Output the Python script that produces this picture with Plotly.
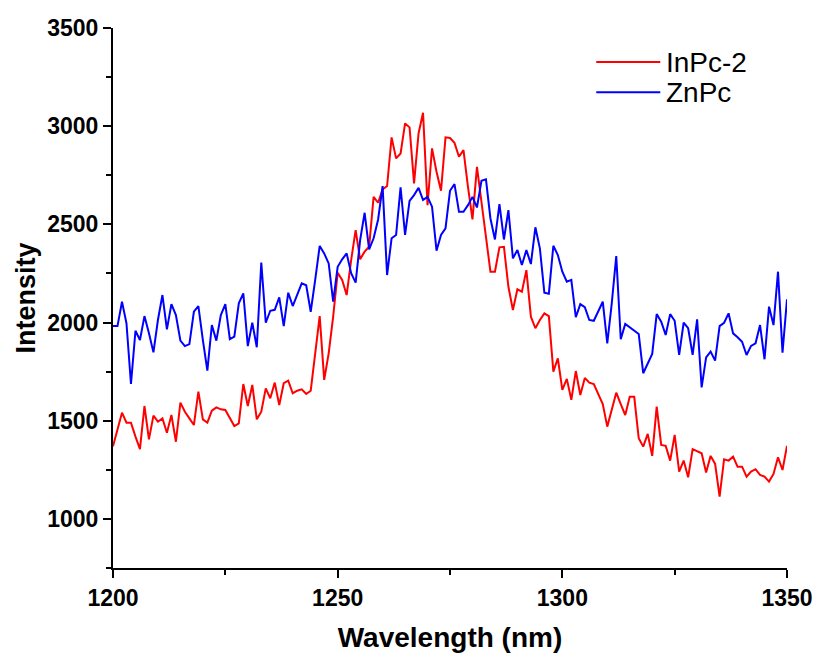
import plotly.graph_objects as go

wavelength = list(range(1200, 1351))

inpc2 = [1370, 1455, 1541, 1490, 1490, 1419, 1355, 1575, 1405, 1526,
         1495, 1512, 1439, 1529, 1393, 1592, 1546, 1512, 1478, 1648,
         1507, 1490, 1551, 1568, 1558, 1555, 1517, 1473, 1487, 1687,
         1575, 1682, 1507, 1546, 1665, 1614, 1694, 1580, 1691, 1704,
         1640, 1653, 1660, 1636, 1653, 1843, 2033, 1708, 1843, 2030,
         2254, 2217, 2140, 2318, 2471, 2322, 2361, 2386, 2640, 2610,
         2678, 2695, 2943, 2836, 2861, 3014, 2994, 2709, 2963, 3068,
         2598, 2887, 2768, 2671, 2943, 2940, 2915, 2844, 2878, 2691,
         2525, 2793, 2624, 2437, 2259, 2259, 2383, 2386, 2182, 2064,
         2169, 2157, 2267, 2030, 1971, 2013, 2047, 2033, 1750, 1818,
         1657, 1713, 1606, 1753, 1631, 1718, 1694, 1687, 1640, 1585,
         1470, 1555, 1643, 1585, 1529, 1622, 1622, 1411, 1368, 1433,
         1321, 1572, 1377, 1372, 1297, 1428, 1241, 1297, 1212, 1355,
         1343, 1334, 1236, 1321, 1280, 1113, 1304, 1297, 1317, 1266,
         1266, 1215, 1241, 1253, 1224, 1215, 1190, 1229, 1314, 1249,
         1372]

znpc = [1982, 1982, 2106, 1996, 1687, 1958, 1911, 2033, 1945, 1848,
        2013, 2140, 1965, 2094, 2038, 1908, 1880, 1890, 2055, 2084,
        1911, 1755, 1987, 1908, 2038, 2094, 1915, 1928, 2098, 2149,
        1880, 1999, 1874, 2305, 1999, 2060, 2065, 2128, 1982, 2152,
        2084, 2140, 2200, 2190, 2055, 2217, 2390, 2352, 2301, 2106,
        2284, 2322, 2352, 2251, 2203, 2420, 2559, 2373, 2429, 2525,
        2695, 2242, 2429, 2446, 2688, 2446, 2620, 2649, 2686, 2624,
        2640, 2590, 2366, 2446, 2480, 2671, 2705, 2564, 2564, 2598,
        2640, 2586, 2722, 2729, 2530, 2423, 2603, 2423, 2573, 2327,
        2369, 2293, 2369, 2298, 2485, 2378, 2152, 2147, 2391, 2344,
        2259, 2208, 2217, 2027, 2094, 2078, 2013, 2009, 2055, 2106,
        1894, 2098, 2339, 1915, 1993, 1976, 1958, 1942, 1742, 1789,
        1840, 2043, 2004, 1937, 2043, 2009, 1835, 1999, 1971, 1835,
        2016, 1670, 1823, 1852, 1806, 1982, 1999, 2047, 1945, 1925,
        1902, 1835, 1881, 1894, 1987, 1813, 2081, 1987, 2259, 1847,
        2118]

series_names = ["InPc-2", "ZnPc"]
series_colors = ["#ff0000", "#0000ff"]

assert len(inpc2) == len(wavelength) and len(znpc) == len(wavelength)

FONT = "Liberation Sans, Arial, sans-serif"

fig = go.Figure()
for name, vals, col in zip(series_names, [inpc2, znpc], series_colors):
    fig.add_trace(go.Scatter(x=wavelength, y=vals, mode="lines", name=name,
                             line=dict(color=col, width=2), showlegend=False))

axis_common = dict(
    showline=True, linecolor="black", linewidth=2,
    ticks="outside", ticklen=8, tickwidth=2, tickcolor="black",
    showgrid=False, zeroline=False, mirror=False, automargin=False,
    tickfont=dict(family=FONT, size=23, color="black", weight="bold"),
)

fig.update_xaxes(range=[1200, 1350], dtick=50, tick0=1200,
                 minor=dict(dtick=25, ticklen=5, tickwidth=2, tickcolor="black", ticks="outside"),
                 title=dict(text="<b>Wavelength (nm)</b>", standoff=18,
                            font=dict(family=FONT, size=28, color="black")),
                 **axis_common)
fig.update_yaxes(range=[750, 3500], dtick=500, tick0=1000,
                 minor=dict(dtick=250, ticklen=5, tickwidth=2, tickcolor="black", ticks="outside"),
                 title=dict(text="<b>Intensity</b>", standoff=4,
                            font=dict(family=FONT, size=27, color="black")),
                 **axis_common)

# legend drawn as line samples + labels in the upper right
legend_y = [0.937, 0.881]
for name, col, ly in zip(series_names, series_colors, legend_y):
    fig.add_shape(type="line", xref="paper", yref="paper",
                  x0=0.717, x1=0.812, y0=ly, y1=ly,
                  line=dict(color=col, width=2))
    fig.add_annotation(xref="paper", yref="paper", x=0.818, y=ly,
                       text=name, showarrow=False, xanchor="left", yanchor="middle",
                       font=dict(family=FONT, size=28, color="black"))

fig.update_layout(
    width=814, height=659,
    margin=dict(l=113, r=27, t=28, b=91),
    paper_bgcolor="white", plot_bgcolor="white",
)

fig.write_html("out.html")
